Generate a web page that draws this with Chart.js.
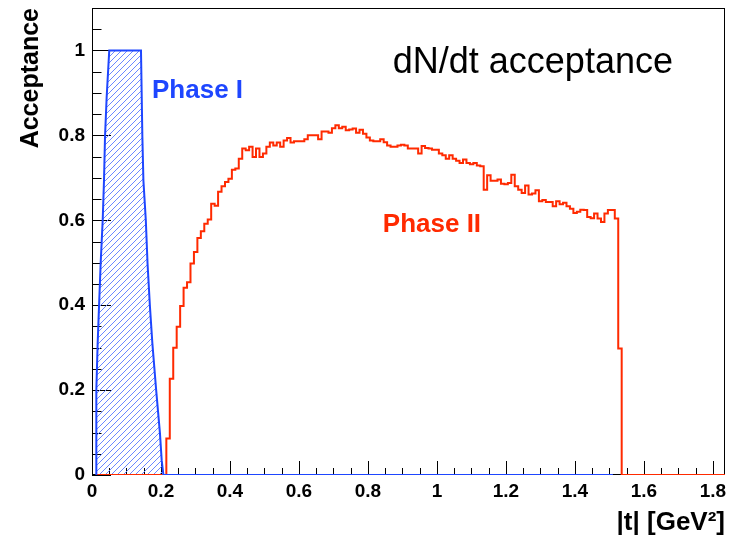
<!DOCTYPE html>
<html>
<head>
<meta charset="utf-8">
<script src="https://cdn.jsdelivr.net/npm/chart.js@4.4.1/dist/chart.umd.min.js"></script>
<style>
  html, body { margin: 0; padding: 0; background: #fff; }
  #wrap { width: 732px; height: 538px; }
</style>
</head>
<body>
<div id="wrap"><canvas id="acc-chart"></canvas></div>
<script>
const xMin = 0, xMax = 1.835
const yMin = 0, yMax = 1.1
const xMajor = 0.2, xMinor = 0.05
const yMajor = 0.2, yMinor = 0.05

// Phase I outline: |t| and acceptance
const phase1T   = [0.0116, 0.0116, 0.0135, 0.0164, 0.0203, 0.0251, 0.031, 0.0348, 0.0377, 0.0425, 0.050,
                   0.142, 0.146, 0.149, 0.156, 0.161, 0.168, 0.175, 0.186, 0.197, 0.202, 0.207, 1.51]
const phase1Acc = [0, 0.106, 0.2, 0.31, 0.396, 0.498, 0.6, 0.694, 0.796, 0.89, 1.0,
                   1.0, 0.796, 0.694, 0.6, 0.498, 0.396, 0.31, 0.2, 0.098, 0.035, 0, 0]

// Phase II histogram: bins of 0.01 starting at 0.2155, zero outside
const phase2ZeroFrom = 0.012
const phase2Start = 0.2155
const phase2Width = 0.01
const phase2Values = [
  0.086, 0.227, 0.300, 0.349, 0.398, 0.441, 0.454, 0.498, 0.525, 0.558,
  0.574, 0.592, 0.602, 0.639, 0.634, 0.667, 0.680, 0.690, 0.698, 0.719,
  0.722, 0.745, 0.769, 0.765, 0.773, 0.749, 0.769, 0.749, 0.757, 0.773,
  0.783, 0.776, 0.783, 0.773, 0.788, 0.794, 0.783, 0.786, 0.786, 0.786,
  0.791, 0.800, 0.800, 0.800, 0.791, 0.809, 0.809, 0.806, 0.817, 0.824,
  0.817, 0.820, 0.812, 0.814, 0.816, 0.806, 0.813, 0.804, 0.795, 0.788,
  0.786, 0.786, 0.791, 0.784, 0.776, 0.773, 0.773, 0.776, 0.778, 0.776,
  0.769, 0.769, 0.769, 0.757, 0.775, 0.770, 0.769, 0.766, 0.766, 0.757,
  0.753, 0.745, 0.753, 0.745, 0.740, 0.735, 0.743, 0.735, 0.732, 0.735,
  0.729, 0.727, 0.672, 0.706, 0.693, 0.693, 0.696, 0.686, 0.685, 0.688,
  0.707, 0.680, 0.672, 0.664, 0.682, 0.661, 0.663, 0.671, 0.645, 0.648,
  0.643, 0.643, 0.633, 0.645, 0.638, 0.641, 0.633, 0.627, 0.617, 0.620,
  0.625, 0.624, 0.608, 0.605, 0.616, 0.604, 0.596, 0.616, 0.624, 0.624,
  0.604, 0.298
]

const blue = '#1e46ff'
const hatchBlue = '#6a88ff'
const red = '#ff2a00'
const font = 'Liberation Sans, Arial, Helvetica, sans-serif'

Chart.defaults.font.family = font
Chart.defaults.color = '#000'

const phase1Points = phase1T.map((t, i) => ({ x: t, y: phase1Acc[i] }))

const phase2Points = [{ x: phase2ZeroFrom, y: 0 }]
phase2Values.forEach((v, i) => phase2Points.push({ x: phase2Start + i * phase2Width, y: v }))
phase2Points.push({ x: phase2Start + phase2Values.length * phase2Width, y: 0 })
phase2Points.push({ x: xMax, y: 0 })

const fmt = v => String(+v.toFixed(2))

// ROOT style frame, inward ticks, hatched Phase I area and the text labels
const rootFrame = {
  id: 'rootFrame',
  beforeDatasetsDraw(chart) {
    const { ctx, chartArea: a, scales: { x, y } } = chart
    ctx.save()
    ctx.strokeStyle = '#000'
    ctx.lineWidth = 1
    ctx.strokeRect(a.left + 0.5, a.top + 0.5, a.right - a.left - 1, a.bottom - a.top - 1)
    ctx.beginPath()
    for (let v = xMin; v <= xMax + 1e-9; v += xMinor) {
      const major = Math.abs(v / xMajor - Math.round(v / xMajor)) < 1e-6
      const px = Math.round(x.getPixelForValue(v)) + 0.5
      ctx.moveTo(px, a.bottom)
      ctx.lineTo(px, a.bottom - (major ? 14 : 7))
    }
    for (let v = yMin; v <= yMax + 1e-9; v += yMinor) {
      const major = Math.abs(v / yMajor - Math.round(v / yMajor)) < 1e-6
      const py = Math.round(y.getPixelForValue(v)) + 0.5
      ctx.moveTo(a.left, py)
      ctx.lineTo(a.left + (major ? 19 : 9.5), py)
    }
    ctx.stroke()
    ctx.restore()

    // hatch inside the Phase I outline, drawn as crisp pixel diagonals
    const pts = chart.getDatasetMeta(0).data
    const base = Math.round(y.getPixelForValue(0))
    ctx.save()
    ctx.beginPath()
    ctx.moveTo(pts[0].x, base)
    pts.forEach(p => ctx.lineTo(p.x, p.y))
    ctx.lineTo(pts[pts.length - 1].x, base)
    ctx.closePath()
    ctx.clip()
    ctx.fillStyle = hatchBlue
    const top = Math.round(a.top)
    const x0 = Math.round(a.left), x1 = Math.round(x.getPixelForValue(0.25))
    for (let py = top; py < base; py++) {
      const off = (base - py) % 6
      for (let px = x0 + off; px < x1; px += 6) ctx.fillRect(px, py, 1, 1)
    }
    ctx.restore()
  },
  afterDatasetsDraw(chart) {
    const { ctx, scales: { x, y } } = chart
    ctx.save()
    ctx.textBaseline = 'alphabetic'
    ctx.fillStyle = '#000'
    ctx.font = '36px ' + font
    ctx.textAlign = 'center'
    ctx.fillText('dN/dt acceptance', x.getPixelForValue(1.278), y.getPixelForValue(0.948))
    ctx.textAlign = 'left'
    ctx.font = 'bold 26px ' + font
    ctx.fillStyle = blue
    ctx.fillText('Phase I', x.getPixelForValue(0.174), y.getPixelForValue(0.889))
    ctx.fillStyle = red
    ctx.fillText('Phase II', x.getPixelForValue(0.843), y.getPixelForValue(0.572))
    ctx.restore()
  }
}

new Chart(document.getElementById('acc-chart'), {
  type: 'line',
  data: {
    datasets: [
      {
        label: 'Phase I',
        data: phase1Points,
        borderColor: blue,
        borderWidth: 2,
        fill: false,
        pointRadius: 0,
        tension: 0,
        borderJoinStyle: 'miter'
      },
      {
        label: 'Phase II',
        data: phase2Points,
        borderColor: red,
        borderWidth: 2,
        stepped: 'before',
        fill: false,
        pointRadius: 0,
        borderJoinStyle: 'miter'
      }
    ]
  },
  options: {
    responsive: true,
    maintainAspectRatio: false,
    animation: false,
    layout: { padding: { top: 8, right: 7, left: 0, bottom: 0 } },
    plugins: { legend: { display: false }, tooltip: { enabled: false } },
    scales: {
      x: {
        type: 'linear',
        min: xMin,
        max: xMax,
        afterFit(s) { s.height = 63; s.paddingLeft = 0; s.paddingRight = 0 },
        grid: { display: false, drawTicks: false },
        border: { display: false },
        ticks: {
          stepSize: xMajor,
          includeBounds: false,
          autoSkip: false,
          maxRotation: 0,
          padding: 5,
          callback: fmt,
          font: { size: 19, weight: 'bold' }
        },
        title: {
          display: true,
          text: '|t| [GeV²]',
          align: 'end',
          font: { size: 26, weight: 'bold' },
          padding: { top: 0, bottom: 0 }
        }
      },
      y: {
        min: yMin,
        max: yMax,
        afterFit(s) { s.width = 92; s.paddingTop = 0; s.paddingBottom = 0 },
        grid: { display: false, drawTicks: false },
        border: { display: false },
        ticks: {
          stepSize: yMajor,
          includeBounds: false,
          padding: 7,
          callback: fmt,
          font: { size: 19, weight: 'bold' }
        },
        title: {
          display: true,
          text: 'Acceptance',
          align: 'end',
          font: { size: 25, weight: 'bold' },
          padding: { top: 16, bottom: 0 }
        }
      }
    }
  },
  plugins: [rootFrame]
})
</script>
</body>
</html>
